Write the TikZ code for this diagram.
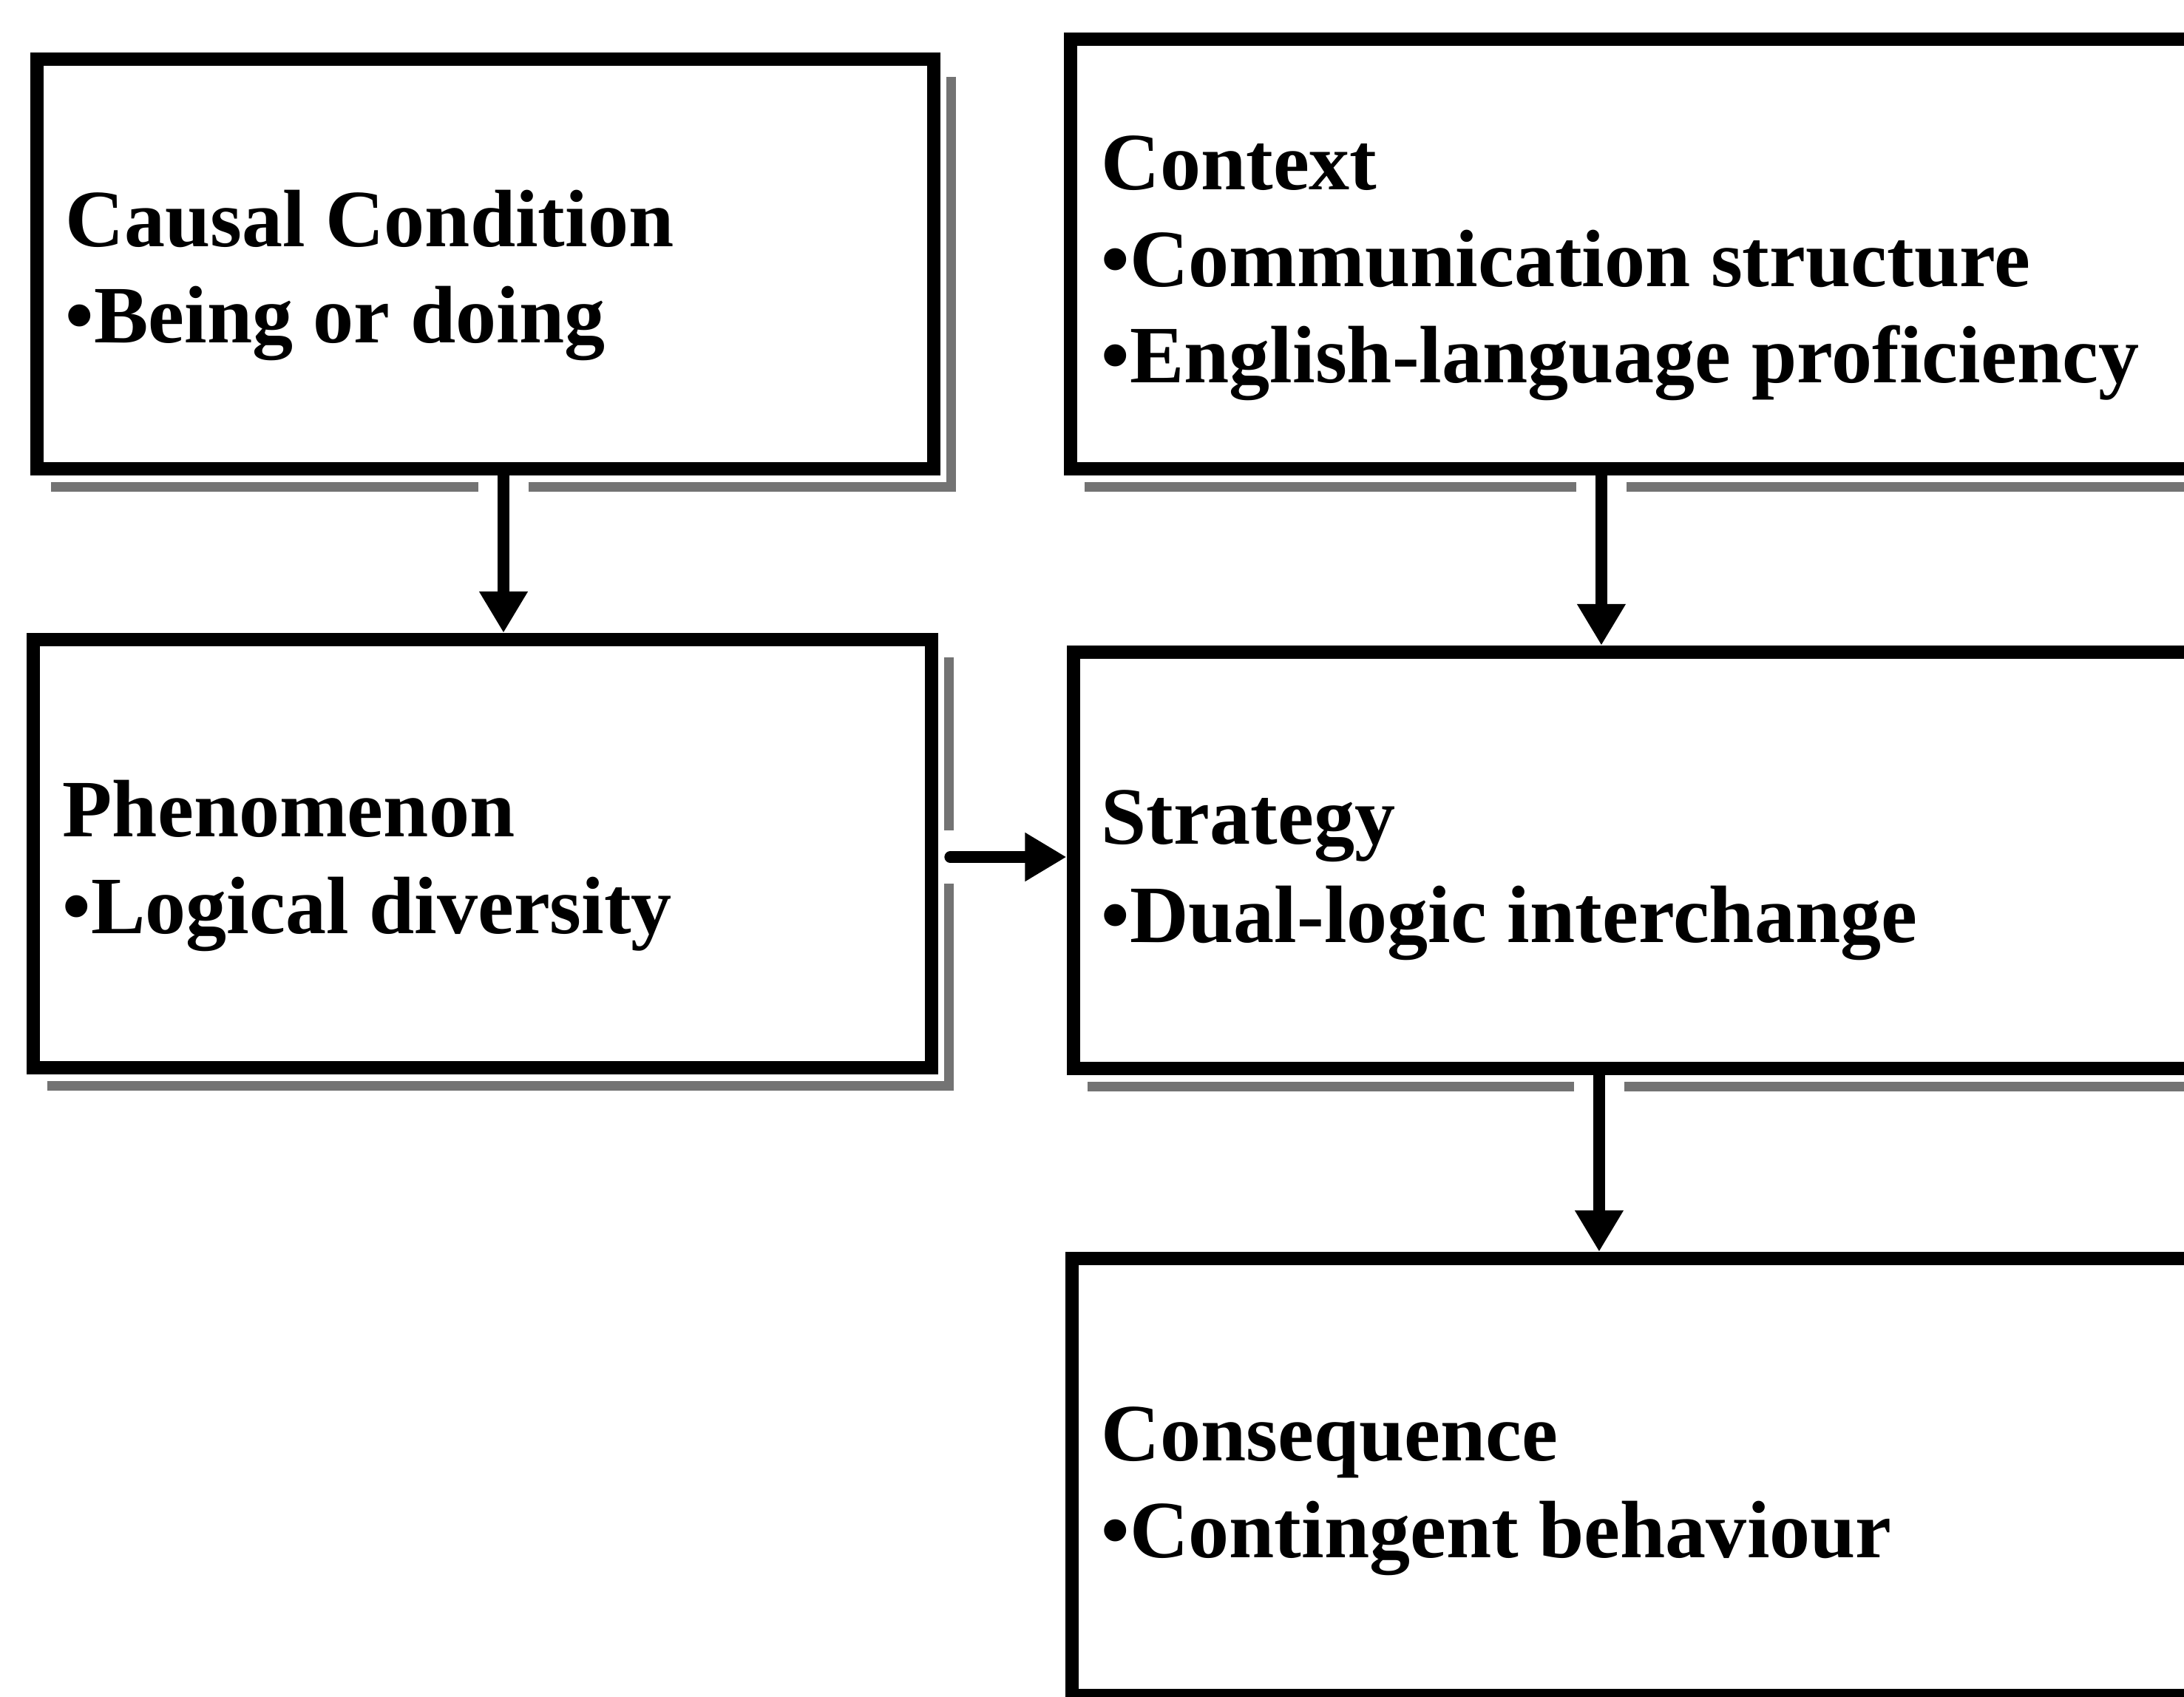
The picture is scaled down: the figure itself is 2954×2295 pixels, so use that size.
\documentclass[tikz,border=0pt]{standalone}
\usepackage{fontspec}
\setmainfont{Liberation Serif}
\usetikzlibrary{arrows.meta}

% gray drop shadow along the right and bottom of a box, kept clear of the border
\newcommand\dropshadow[1]{%
  \draw[shadowline] ([xshift=0.14cm,yshift=-0.33cm]#1.north east)
    |- ([xshift=0.28cm,yshift=-0.15cm]#1.south west);}

\begin{document}
\begin{tikzpicture}[x=0.01cm, y=-0.01cm,
  box/.style={draw, line width=0.18cm, rectangle, inner sep=0pt},
  lbl/.style={anchor=base west, inner sep=0pt,
    font=\fontsize{31.3pt}{37pt}\selectfont\bfseries},
  shadowline/.style={draw=black!55, line width=0.13cm},
  arrtip/.style={line width=0.16cm, -{Triangle[length=0.56cm,width=0.62cm]}},
  arr/.style={arrtip,
    preaction={draw=white, line width=0.68cm, arrows=-, line cap=butt}},
  harr/.style={arrtip, line cap=round,
    preaction={draw=white, line width=0.72cm, arrows=-, line cap=butt,
      shorten <=-0.1cm}},
]
\fill[white] (0,0) rectangle (2954,2295);
\useasboundingbox (0,0) rectangle (2954,2295);
\clip (0,0) rectangle (2954,2295);

% boxes (the right-hand column runs past the right edge)
\node[box, minimum width=12.13cm, minimum height=5.54cm] (cause)  at (656.5,357)   {};
\node[box, minimum width=17cm,    minimum height=5.81cm] (context) at (2298,343.5)  {};
\node[box, minimum width=12.15cm, minimum height=5.79cm] (phen)   at (652.5,1154.5) {};
\node[box, minimum width=17cm,    minimum height=5.63cm] (strat)  at (2302,1163.5) {};
\node[box, minimum width=17cm,    minimum height=5.91cm] (conseq) at (2300,1997.5) {};

\dropshadow{cause}
\dropshadow{context}
\dropshadow{phen}
\dropshadow{strat}
\dropshadow{conseq}

% box texts
\node[lbl] (causeT) at (88,334)   {Causal Condition};
\node[lbl] (causeB) at (88,464)   {•Being or doing};
\node[lbl] (ctxT)   at (1489,257) {Context};
\node[lbl] (ctxB1)  at (1489,388) {•Communication structure};
\node[lbl] (ctxB2)  at (1489,518) {•English-language proficiency};
\node[lbl] (phenT)  at (84,1132)  {Phenomenon};
\node[lbl] (phenB)  at (84,1262)  {•Logical diversity};
\node[lbl] (stratT) at (1489,1142) {Strategy};
\node[lbl] (stratB) at (1489,1274) {•Dual-logic interchange};
\node[lbl] (conT)   at (1489,1975) {Consequence};
\node[lbl] (conB)   at (1489,2106) {•Contingent behaviour};

% connectors
\draw[arr] ([xshift=0.245cm]cause.south) -- ([xshift=0.245cm]cause.south |- phen.north);
\draw[arr] ([xshift=-1.32cm]context.south) -- ([xshift=-1.32cm]context.south |- strat.north);
\draw[arr] ([xshift=-1.39cm]strat.south) -- ([xshift=-1.39cm]strat.south |- conseq.north);
\coordinate (hstart) at ([xshift=0.16cm,yshift=-0.045cm]phen.east);
\draw[harr] (hstart) -- (hstart -| strat.west);
\end{tikzpicture}
\end{document}
